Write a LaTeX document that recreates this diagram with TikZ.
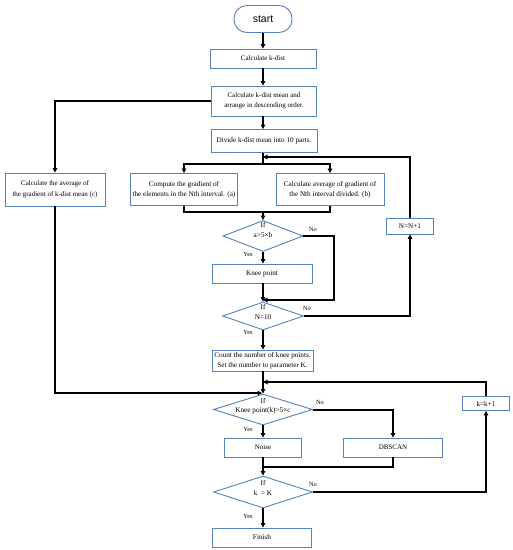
\documentclass[tikz,border=0pt]{standalone}
\usepackage{fontspec}
\setmainfont{Liberation Serif}
\newfontfamily\startfont{Liberation Sans}
\usetikzlibrary{arrows.meta,shapes.geometric}
\definecolor{boxblue}{RGB}{84,130,185}
\tikzset{
  boxn/.style={draw=boxblue,line width=0.9pt,rectangle,inner sep=1pt,align=center,font=\fontsize{7.2}{10.5}\selectfont},
  smallt/.style={font=\fontsize{7}{10.5}\selectfont},
  dia/.style={draw=boxblue,line width=0.9pt,diamond,inner sep=0pt},
  txt/.style={inner sep=0pt,font=\fontsize{7.2}{8}\selectfont},
  lbl/.style={inner sep=0pt,font=\fontsize{6.3}{7}\selectfont},
  conn/.style={line width=2pt,black},
  arr/.style={conn,-{Triangle[length=4.5pt,width=4.5pt]}}
}
\begin{document}
\begin{tikzpicture}[x=1pt,y=-1pt]
\fill[white] (0,0) rectangle (513,550);
\useasboundingbox (0,0) rectangle (513,550);
% nodes
\node[draw=boxblue,line width=0.9pt,rounded corners=13pt,minimum width=58pt,minimum height=27pt,inner sep=0pt,font=\startfont\fontsize{10.5}{12}\selectfont] (start) at (263,19) {start};
\node[boxn,smallt,minimum width=106pt,minimum height=19pt] (kdist) at (263,58.5) {Calculate k-dist};
\node[boxn,smallt,minimum width=105pt,minimum height=30pt] (mean) at (264,101) {Calculate k-dist mean and\\arrange in descending order.};
\node[boxn,minimum width=106pt,minimum height=23pt] (divide) at (264,141) {Divide k-dist mean into 10 parts.};
\node[boxn,smallt,minimum width=100pt,minimum height=33pt] (cbox) at (55,189.5) {Calculate the average of\\the gradient of k-dist mean (c)};
\node[boxn,minimum width=107pt,minimum height=32pt] (abox) at (184,189.5) {Compute the gradient of\\the elements in the Nth interval. (a)};
\node[boxn,minimum width=108pt,minimum height=32pt] (bbox) at (330,189.5) {Calculate average of gradient of\\the Nth interval divided. (b)};
\node[dia,minimum width=80pt,minimum height=31pt] (d1) at (263,236) {};
\node[txt] (d1if) at (263,224.5) {If};
\node[txt] (d1ex) at (263,235.5) {a>5×b};
\node[boxn,minimum width=100pt,minimum height=19pt] (knee) at (262,273.5) {Knee point};
\node[dia,minimum width=81pt,minimum height=28pt] (d2) at (263,316) {};
\node[txt] (d2if) at (263,306.5) {If};
\node[txt] (d2ex) at (263,317) {N=10};
\node[boxn,minimum width=47pt,minimum height=16pt] (nn) at (410,226) {N=N+1};
\node[boxn,minimum width=101pt,minimum height=21pt] (count) at (262.5,360.5) {Count the number of knee points.\\Set the number to parameter K.};
\node[dia,minimum width=99pt,minimum height=31pt] (d3) at (263,409.5) {};
\node[txt] (d3if) at (263,400.5) {If};
\node[txt] (d3ex) at (263,410.5) {Knee point(k)>5×c};
\node[boxn,minimum width=47pt,minimum height=14pt] (kk) at (486,403.5) {k=k+1};
\node[boxn,smallt,minimum width=77pt,minimum height=19pt] (noise) at (263,447.5) {Noise};
\node[boxn,smallt,minimum width=99pt,minimum height=19pt] (dbscan) at (393,447.5) {DBSCAN};
\node[dia,minimum width=99pt,minimum height=32pt] (d4) at (263,492) {};
\node[txt] (d4if) at (263,482.5) {If};
\node[txt] (d4ex) at (263,492.5) {k\enspace= K};
\node[boxn,minimum width=99pt,minimum height=19pt] (finish) at (262,537.5) {Finish};
% labels
\node[lbl] (y1) at (248,254) {Yes};
\node[lbl] (y2) at (248,332.5) {Yes};
\node[lbl] (y3) at (248,429) {Yes};
\node[lbl] (y4) at (248,516) {Yes};
\node[lbl] (n1) at (313,229) {No};
\node[lbl] (n2) at (307,308) {No};
\node[lbl] (n3) at (320,402) {No};
\node[lbl] (n4) at (313,484) {No};
% coordinates
\coordinate (j1) at (263,157);
\coordinate (s1) at (263,164);
\coordinate (m1) at (263,212);
\coordinate (j2) at (263,382);
\coordinate (j3) at (263,467);
\coordinate (r1) at (263,300);
\coordinate (l3) at (263,393);
% connectors
\draw[arr] (start.south) -- (start.south |- kdist.north);
\draw[arr] (kdist.south) -- (kdist.south |- mean.north);
\draw[arr] (mean.south -| kdist.south) -- (kdist.south |- divide.north);
\draw[arr] (mean.west) -| (cbox.north);
\draw[conn] (divide.south -| j1) -- (s1);
\draw[arr] (s1) -| (abox.north);
\draw[arr] (s1) -| (bbox.north);
\draw[conn] (abox.south) |- (m1);
\draw[conn] (bbox.south) |- (m1);
\draw[arr] (m1) -- (d1.north);
\draw[arr] (d1.south) -- (d1.south |- knee.north);
\draw[arr] (d1.east) -- (334,236) -- (334,300) -- (r1);
\draw[arr] (d1.south |- knee.south) -- (d2.north);
\draw[arr] (d2.east) -| (nn.south);
\draw[arr] (nn.north) |- (j1);
\draw[arr] (d2.south) -- (d2.south |- count.north);
\draw[conn] (d2.south |- count.south) -- (j2);
\draw[arr] (j2) -- (d3.north);
\draw[arr] (kk.north) |- (j2);
\draw[arr] (cbox.south) |- ([xshift=-1pt]l3);
\draw[arr] (d3.east) -| (dbscan.north);
\draw[arr] (d3.south) -- (noise.north);
\draw[arr] (noise.south) -- (d4.north);
\draw[conn] (dbscan.south) |- (j3);
\draw[arr] (d4.east) -| (kk.south);
\draw[arr] (d4.south) -- (d4.south |- finish.north);
\end{tikzpicture}
\end{document}
